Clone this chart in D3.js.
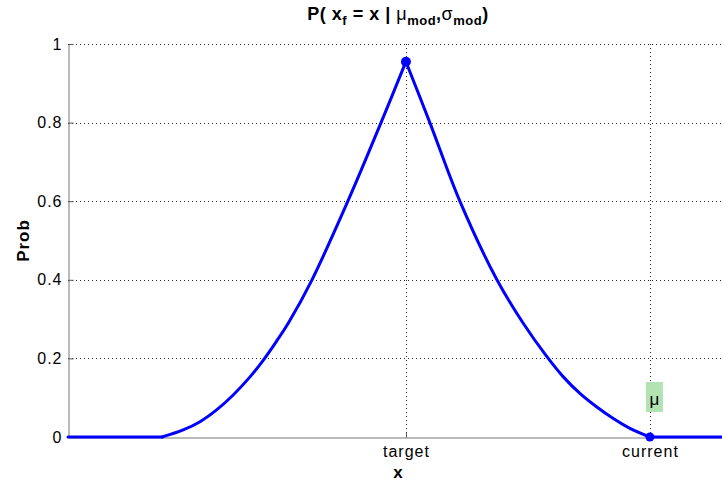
<!DOCTYPE html>
<html>
<head>
<meta charset="utf-8">
<script src="https://cdn.jsdelivr.net/npm/d3@7"></script>
<style>
  body { margin: 0; background: #fff; }
  svg { display: block; font-family: "Liberation Sans", Arial, sans-serif; }
</style>
</head>
<body>
<svg id="canvas" width="722" height="485"></svg>
<script>
// curve (x: target = 0, current = 1)
let leftX = [-1.385, -1.0];
let leftY = [0, 0];
let riseX = [-1.0, -0.913, -0.844, -0.776, -0.708, -0.639, -0.585, -0.530, -0.480, -0.385, -0.238, -0.102, 0];
let riseY = [0, 0.018, 0.039, 0.069, 0.107, 0.153, 0.195, 0.244, 0.292, 0.4, 0.6, 0.8, 0.955];
let fallX = [0, 0.098, 0.221, 0.373, 0.480, 0.577, 0.645, 0.713, 0.781, 0.850, 0.918, 1.0];
let fallY = [0.955, 0.8, 0.6, 0.4, 0.29, 0.205, 0.153, 0.111, 0.077, 0.047, 0.022, 0];
let rightX = [1.0, 1.32];
let rightY = [0, 0];
let yTicks = [0, 0.2, 0.4, 0.6, 0.8, 1];
let xTickValues = [0, 1];
let xTickLabels = ["target", "current"];
let peak = [0, 0.955];
let current = [1, 0];

let canvas = d3.select("#canvas");

let plotLeft = 68, plotRight = 728, plotTop = 44, plotBottom = 437;

let xScale = d3.scaleLinear().domain([-1.385, 1.32]).range([plotLeft, plotRight]);
let yScale = d3.scaleLinear().domain([0, 1]).range([plotBottom, plotTop]);

// grid
let grid = canvas.append('g')
    .attr('stroke', '#222')
    .attr('stroke-width', 1)
    .attr('stroke-dasharray', '1,3');

grid.selectAll('.hgrid')
    .data(yTicks.filter((t) => t > 0))
    .enter()
    .append('line')
    .attr('x1', plotLeft)
    .attr('x2', plotRight)
    .attr('y1', (t) => Math.round(yScale(t)) + 0.5)
    .attr('y2', (t) => Math.round(yScale(t)) + 0.5);

grid.selectAll('.vgrid')
    .data(xTickValues)
    .enter()
    .append('line')
    .attr('x1', (t) => Math.round(xScale(t)) + 0.5)
    .attr('x2', (t) => Math.round(xScale(t)) + 0.5)
    .attr('y1', plotTop)
    .attr('y2', plotBottom);

// axes
let yAxis = d3.axisLeft(yScale)
    .tickValues(yTicks)
    .tickSizeInner(-5)
    .tickSizeOuter(0)
    .tickPadding(6)
    .tickFormat((d) => d3.format('')(d));

let yAxisG = canvas.append('g')
    .attr('transform', 'translate(' + (plotLeft + 0.5) + ',0)')
    .call(yAxis);
yAxisG.select('.domain').attr('stroke', '#777');
yAxisG.selectAll('.tick line').attr('stroke', '#555');
yAxisG.selectAll('.tick text')
    .attr('font-size', 16)
    .attr('letter-spacing', 1)
    .attr('fill', '#000')
    .attr('font-family', '"Liberation Sans", Arial, sans-serif');

let xAxis = d3.axisBottom(xScale)
    .tickValues(xTickValues)
    .tickSizeInner(-5)
    .tickSizeOuter(0)
    .tickPadding(8)
    .tickFormat((d, i) => xTickLabels[i]);

let xAxisG = canvas.append('g')
    .attr('transform', 'translate(0,' + (plotBottom + 0.5) + ')')
    .call(xAxis);
xAxisG.select('.domain').attr('stroke', '#777');
xAxisG.selectAll('.tick line').attr('stroke', '#555');
xAxisG.selectAll('.tick text')
    .attr('font-size', 16)
    .attr('letter-spacing', 1)
    .attr('fill', '#000')
    .attr('font-family', '"Liberation Sans", Arial, sans-serif');

// curve, one piece per side so the peak stays sharp
let line = d3.line()
    .x((p) => xScale(p[0]))
    .y((p) => yScale(p[1]))
    .curve(d3.curveCatmullRom.alpha(0.5));

let pieces = [[leftX, leftY], [riseX, riseY], [fallX, fallY], [rightX, rightY]];

canvas.selectAll('.piece')
    .data(pieces)
    .enter()
    .append('path')
    .attr('class', 'piece')
    .attr('d', (piece) => line(piece[0].map((x, i) => [x, piece[1][i]])))
    .attr('fill', 'none')
    .attr('stroke', '#0000ff')
    .attr('stroke-width', 3)
    .attr('stroke-linejoin', 'round')
    .attr('stroke-linecap', 'round');

canvas.append('circle')
    .attr('cx', xScale(peak[0]))
    .attr('cy', yScale(peak[1]))
    .attr('r', 5)
    .attr('fill', '#0000ff');

canvas.append('circle')
    .attr('cx', xScale(current[0]))
    .attr('cy', yScale(current[1]))
    .attr('r', 4.5)
    .attr('fill', '#0000ff');

// mu label
canvas.append('rect')
    .attr('x', xScale(current[0]) - 4)
    .attr('y', 382)
    .attr('width', 17)
    .attr('height', 30)
    .attr('fill', '#b3e3b3');
canvas.append('text')
    .attr('x', xScale(current[0]) + 4.5)
    .attr('y', 405)
    .attr('text-anchor', 'middle')
    .attr('font-size', 17)
    .text('μ');

// title
let cx = (plotLeft + plotRight) / 2;
let title = canvas.append('text')
    .attr('x', cx)
    .attr('y', 20)
    .attr('text-anchor', 'middle')
    .attr('font-size', 18)
    .attr('letter-spacing', 0.5)
    .attr('font-weight', 'bold');
title.append('tspan').text('P( x');
title.append('tspan').attr('font-size', 13).attr('dy', 5).text('f');
title.append('tspan').attr('dy', -5).text(' = x | ');
title.append('tspan').attr('font-weight', 'normal').text('μ');
title.append('tspan').attr('font-size', 13).attr('dy', 5).text('mod');
title.append('tspan').attr('dy', -5).text(',');
title.append('tspan').attr('font-weight', 'normal').text('σ');
title.append('tspan').attr('font-size', 13).attr('dy', 5).text('mod');
title.append('tspan').attr('dy', -5).text(')');

// axis labels
canvas.append('text')
    .attr('x', cx)
    .attr('y', 478)
    .attr('text-anchor', 'middle')
    .attr('font-size', 17)
    .attr('font-weight', 'bold')
    .text('x');

canvas.append('text')
    .attr('transform', 'translate(29,' + ((plotTop + plotBottom) / 2) + ') rotate(-90)')
    .attr('text-anchor', 'middle')
    .attr('font-size', 17)
    .attr('letter-spacing', 1)
    .attr('font-weight', 'bold')
    .text('Prob');
</script>
</body>
</html>
